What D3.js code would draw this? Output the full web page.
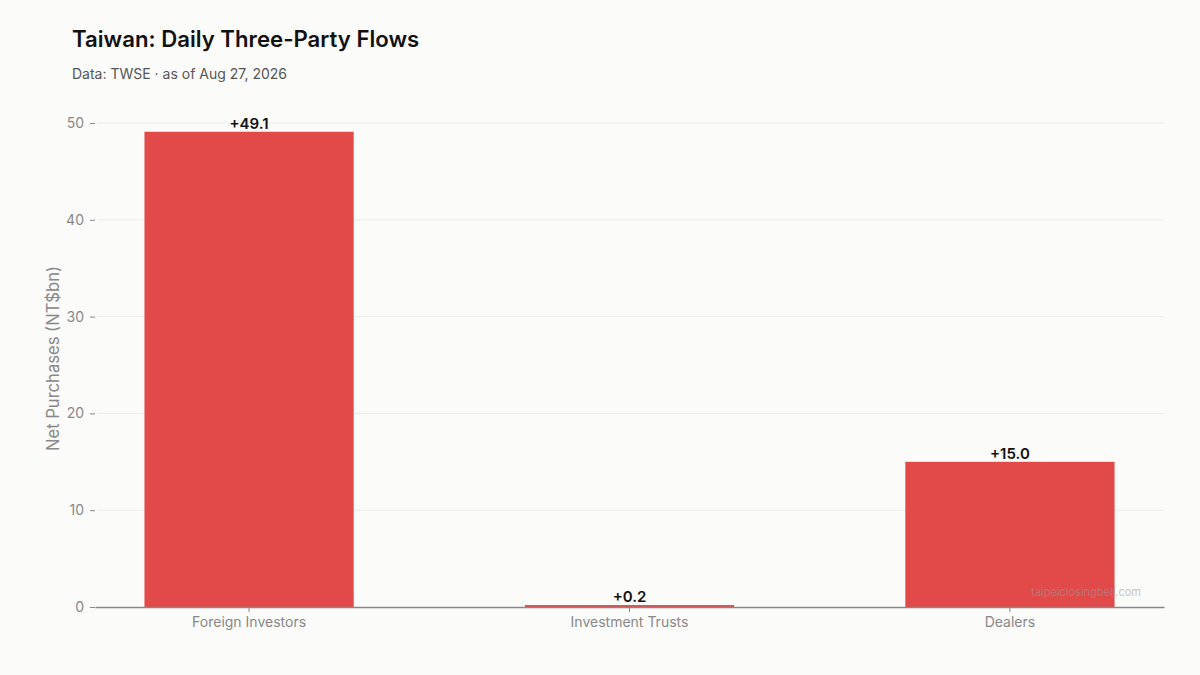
<!DOCTYPE html>
<html>
<head>
<meta charset="utf-8">
<script src="https://cdn.jsdelivr.net/npm/d3@7"></script>
<style>
  html, body { margin: 0; padding: 0; background: #fbfbf9; }
  svg { display: block; font-family: Inter, 'Noto Sans', sans-serif; }
</style>
</head>
<body>
<div id="chart"></div>
<script>
// data
let categories = ['Foreign Investors', 'Investment Trusts', 'Dealers']
let netFlows = [49.1, 0.2, 15.0]
let yTicks = [0, 10, 20, 30, 40, 50]

let width = 1200
let height = 675
let margin = { top: 108, left: 95, right: 36, bottom: 68 }

let svg = d3
  .select('#chart')
  .append('svg')
  .attr('width', width)
  .attr('height', height)

svg
  .append('rect')
  .attr('width', width)
  .attr('height', height)
  .attr('fill', '#fbfbf9')

let x = d3
  .scaleBand()
  .domain(categories)
  .range([margin.left, width - margin.right])
  .paddingInner(0.45)
  .paddingOuter(0.13)

let y = d3
  .scaleLinear()
  .domain([0, d3.max(netFlows) * 1.05])
  .range([height - margin.bottom, margin.top])

// gridlines
svg
  .append('g')
  .selectAll('line')
  .data(yTicks.filter(d => d > 0))
  .join('line')
  .attr('x1', margin.left + 2)
  .attr('x2', width - margin.right)
  .attr('y1', d => y(d))
  .attr('y2', d => y(d))
  .attr('stroke', '#ededeb')
  .attr('stroke-width', 1)

// y axis
let yAxis = svg
  .append('g')
  .attr('transform', `translate(${margin.left},0)`)
  .call(d3.axisLeft(y).tickValues(yTicks).tickSize(5).tickPadding(6))
yAxis.select('.domain').remove()
yAxis.selectAll('line').attr('stroke', '#888')
yAxis
  .selectAll('text')
  .attr('fill', '#888')
  .attr('font-size', 14)
  .attr('font-family', 'Inter, sans-serif')

// bars
svg
  .append('g')
  .selectAll('rect')
  .data(categories)
  .join('rect')
  .attr('x', d => x(d))
  .attr('width', x.bandwidth())
  .attr('y', (d, i) => y(netFlows[i]))
  .attr('height', (d, i) => y(0) - y(netFlows[i]))
  .attr('fill', '#e24a4a')

// x axis
let xAxis = svg
  .append('g')
  .attr('transform', `translate(0,${y(0)})`)
  .call(d3.axisBottom(x).tickSize(5).tickSizeOuter(0).tickPadding(5))
xAxis.select('.domain').attr('stroke', '#888').attr('stroke-width', 1.5)
xAxis.selectAll('.tick line').attr('stroke', '#888')
xAxis
  .selectAll('text')
  .attr('fill', '#888')
  .attr('font-size', 14)
  .attr('font-family', 'Inter, sans-serif')

// value labels
svg
  .append('g')
  .selectAll('text')
  .data(categories)
  .join('text')
  .attr('x', d => x(d) + x.bandwidth() / 2)
  .attr('y', (d, i) => y(netFlows[i]) - 3)
  .attr('text-anchor', 'middle')
  .attr('font-size', 15)
  .attr('font-weight', 600)
  .attr('fill', '#111')
  .text((d, i) => (netFlows[i] >= 0 ? '+' : '') + netFlows[i].toFixed(1))

// y label
svg
  .append('text')
  .attr('transform', `translate(59,${(y(0) + margin.top) / 2 + 1}) rotate(-90)`)
  .attr('text-anchor', 'middle')
  .attr('font-size', 16.6)
  .attr('fill', '#888')
  .text('Net Purchases (NT$bn)')

// titles
svg
  .append('text')
  .attr('x', 72)
  .attr('y', 47)
  .attr('font-size', 22.2)
  .attr('font-weight', 600)
  .attr('fill', '#111')
  .text('Taiwan: Daily Three-Party Flows')

svg
  .append('text')
  .attr('x', 72)
  .attr('y', 79)
  .attr('font-size', 14)
  .attr('fill', '#555')
  .text('Data: TWSE · as of Aug 27, 2026')

// watermark
svg
  .append('text')
  .attr('x', 1141)
  .attr('y', 596)
  .attr('text-anchor', 'end')
  .attr('font-size', 11)
  .attr('fill', '#999')
  .attr('opacity', 0.55)
  .text('taipeiclosingbell.com')
</script>
</body>
</html>
